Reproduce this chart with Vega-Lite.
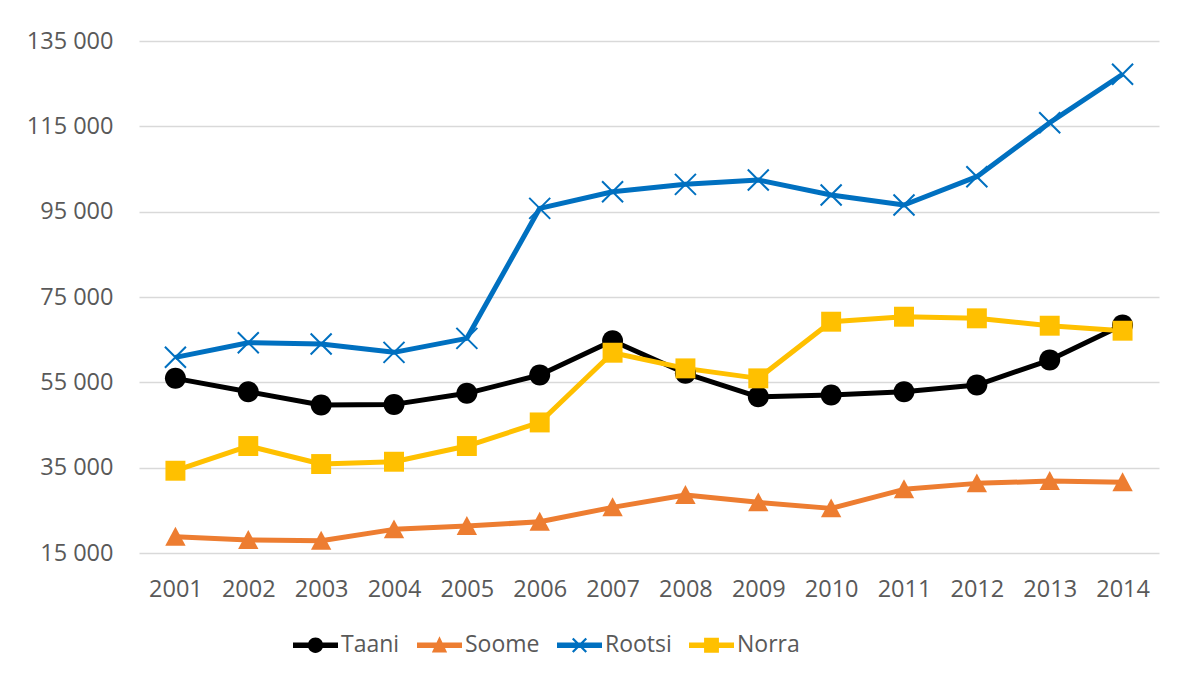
{
  "$schema": "https://vega.github.io/schema/vega-lite/v6.json",
  "width": 1020,
  "height": 512,
  "autosize": {"type": "none"},
  "padding": {"left": 139, "top": 41, "right": 30, "bottom": 129},
  "background": "white",
  "config": {
    "view": {"stroke": null},
    "font": "Open Sans",
    "axis": {"labelFont": "Open Sans", "labelFontSize": 23.5, "labelColor": "#595959", "domain": false, "ticks": false, "tickSize": 0, "title": null}
  },
  "data": {
    "values": [
      {"year": "2001", "series": "Taani", "value": 55930},
      {"year": "2002", "series": "Taani", "value": 52800},
      {"year": "2003", "series": "Taani", "value": 49680},
      {"year": "2004", "series": "Taani", "value": 49830},
      {"year": "2005", "series": "Taani", "value": 52420},
      {"year": "2006", "series": "Taani", "value": 56710},
      {"year": "2007", "series": "Taani", "value": 64760},
      {"year": "2008", "series": "Taani", "value": 57110},
      {"year": "2009", "series": "Taani", "value": 51620},
      {"year": "2010", "series": "Taani", "value": 52020},
      {"year": "2011", "series": "Taani", "value": 52800},
      {"year": "2012", "series": "Taani", "value": 54370},
      {"year": "2013", "series": "Taani", "value": 60230},
      {"year": "2014", "series": "Taani", "value": 68430},
      {"year": "2001", "series": "Soome", "value": 18810},
      {"year": "2002", "series": "Soome", "value": 18040},
      {"year": "2003", "series": "Soome", "value": 17870},
      {"year": "2004", "series": "Soome", "value": 20540},
      {"year": "2005", "series": "Soome", "value": 21320},
      {"year": "2006", "series": "Soome", "value": 22320},
      {"year": "2007", "series": "Soome", "value": 25700},
      {"year": "2008", "series": "Soome", "value": 28580},
      {"year": "2009", "series": "Soome", "value": 26870},
      {"year": "2010", "series": "Soome", "value": 25460},
      {"year": "2011", "series": "Soome", "value": 29920},
      {"year": "2012", "series": "Soome", "value": 31320},
      {"year": "2013", "series": "Soome", "value": 31860},
      {"year": "2014", "series": "Soome", "value": 31560},
      {"year": "2001", "series": "Rootsi", "value": 60860},
      {"year": "2002", "series": "Rootsi", "value": 64280},
      {"year": "2003", "series": "Rootsi", "value": 63980},
      {"year": "2004", "series": "Rootsi", "value": 62030},
      {"year": "2005", "series": "Rootsi", "value": 65310},
      {"year": "2006", "series": "Rootsi", "value": 95780},
      {"year": "2007", "series": "Rootsi", "value": 99680},
      {"year": "2008", "series": "Rootsi", "value": 101400},
      {"year": "2009", "series": "Rootsi", "value": 102420},
      {"year": "2010", "series": "Rootsi", "value": 98900},
      {"year": "2011", "series": "Rootsi", "value": 96560},
      {"year": "2012", "series": "Rootsi", "value": 103200},
      {"year": "2013", "series": "Rootsi", "value": 115850},
      {"year": "2014", "series": "Rootsi", "value": 127200},
      {"year": "2001", "series": "Norra", "value": 34280},
      {"year": "2002", "series": "Norra", "value": 40070},
      {"year": "2003", "series": "Norra", "value": 35850},
      {"year": "2004", "series": "Norra", "value": 36390},
      {"year": "2005", "series": "Norra", "value": 40070},
      {"year": "2006", "series": "Norra", "value": 45600},
      {"year": "2007", "series": "Norra", "value": 61940},
      {"year": "2008", "series": "Norra", "value": 58270},
      {"year": "2009", "series": "Norra", "value": 55930},
      {"year": "2010", "series": "Norra", "value": 69210},
      {"year": "2011", "series": "Norra", "value": 70380},
      {"year": "2012", "series": "Norra", "value": 70000},
      {"year": "2013", "series": "Norra", "value": 68270},
      {"year": "2014", "series": "Norra", "value": 67100}
    ]
  },
  "encoding": {
    "x": {"field": "year", "type": "ordinal", "scale": {"type": "point", "padding": 0.5}, "axis": {"labelAngle": 0, "labelPadding": 24, "grid": false}},
    "y": {"field": "value", "type": "quantitative", "scale": {"domain": [15000, 135000], "nice": false, "zero": false}, "axis": {"values": [15000, 35000, 55000, 75000, 95000, 115000, 135000], "format": ",d", "labelExpr": "replace(datum.label, ',', ' ')", "labelPadding": 26, "grid": true, "gridColor": "#D9D9D9", "gridWidth": 1.5}}
  },
  "layer": [
    {
      "mark": {"type": "line", "strokeWidth": 5, "strokeJoin": "round"},
      "encoding": {
        "color": {
          "field": "series", "type": "nominal",
          "scale": {"domain": ["Taani", "Soome", "Rootsi", "Norra"], "range": ["#000000", "#ED7D31", "#0070C0", "#FFC000"]},
          "sort": ["Taani", "Soome", "Rootsi", "Norra"],
          "legend": {
            "title": null,
            "orient": "none",
            "direction": "horizontal",
            "legendX": 154,
            "legendY": 581.5,
            "padding": 0,
            "symbolSize": 2025,
            "labelFont": "Open Sans",
            "labelFontSize": 23,
            "labelColor": "#595959",
            "labelOffset": 3,
            "columnPadding": 17,
            "encode": {
              "symbols": {
                "update": {
                  "shape": {"signal": "datum.value === 'Taani' ? 'M-1,-0.12H1V0.12H-1ZM-0.34,0A0.34,0.34 0 1,1 0.34,0A0.34,0.34 0 1,1 -0.34,0Z' : datum.value === 'Soome' ? 'M-1,-0.12H1V0.12H-1ZM0,-0.4L0.34,0.32L-0.34,0.32Z' : datum.value === 'Rootsi' ? 'M-1,-0.12H1V0.12H-1ZM-0.265,-0.335L0.335,0.265L0.265,0.335L-0.335,-0.265ZM-0.335,0.265L0.265,-0.335L0.335,-0.265L-0.265,0.335Z' : 'M-1,-0.12H1V0.12H-1ZM-0.33,-0.33H0.33V0.33H-0.33Z'"},
                  "fill": {"scale": "color", "field": "value"},
                  "stroke": {"value": "transparent"},
                  "strokeWidth": {"value": 0},
                  "size": {"value": 2025},
                  "opacity": {"value": 1}
                }
              }
            }
          }
        }
      }
    },
    {
      "transform": [{"filter": "datum.series !== 'Rootsi'"}],
      "mark": {"type": "point", "filled": true, "opacity": 1, "size": 441},
      "encoding": {
        "color": {"field": "series", "type": "nominal"},
        "shape": {
          "field": "series", "type": "nominal",
          "scale": {"domain": ["Taani", "Soome", "Norra"], "range": ["M-1,0A1,1 0 1,1 1,0A1,1 0 1,1 -1,0Z", "M0,-0.95L0.97,0.85L-0.97,0.85Z", "M-0.95,-0.95H0.95V0.95H-0.95Z"]},
          "legend": null
        }
      }
    },
    {
      "transform": [{"filter": "datum.series === 'Rootsi'"}],
      "mark": {"type": "point", "filled": false, "shape": "M-1,-1L1,1M-1,1L1,-1", "size": 441, "strokeWidth": 2, "color": "#0070C0", "opacity": 1}
    }
  ]
}
